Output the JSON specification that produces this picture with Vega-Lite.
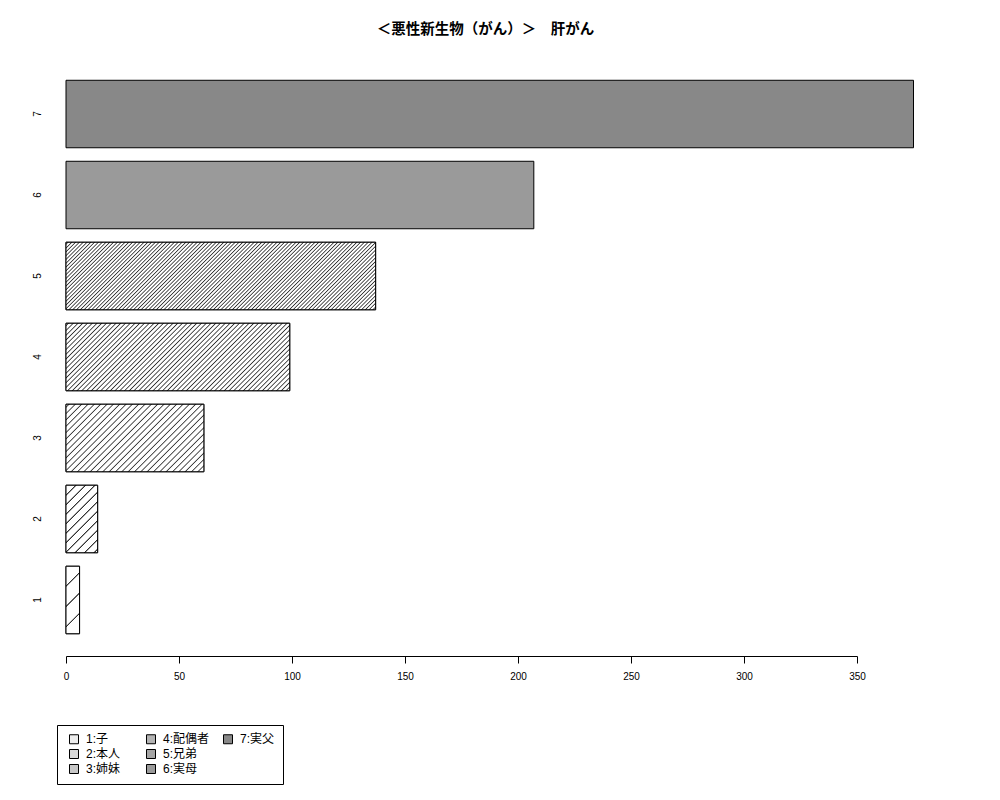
{
  "$schema": "https://vega.github.io/schema/vega-lite/v6.json",
  "width": 791,
  "height": 598,
  "autosize": {"type": "none"},
  "padding": {"left": 66, "top": 58, "right": 143, "bottom": 144},
  "background": "white",
  "title": {
    "text": "＜悪性新生物（がん）＞　肝がん",
    "fontSize": 14.5,
    "fontWeight": "bold",
    "color": "black",
    "frame": "group",
    "anchor": "middle",
    "dx": 24,
    "offset": 21
  },
  "data": {
    "values": [
      {"cat": "1", "label": "1:子", "value": 6},
      {"cat": "2", "label": "2:本人", "value": 14},
      {"cat": "3", "label": "3:姉妹", "value": 61},
      {"cat": "4", "label": "4:配偶者", "value": 99},
      {"cat": "5", "label": "5:兄弟", "value": 137},
      {"cat": "6", "label": "6:実母", "value": 207},
      {"cat": "7", "label": "7:実父", "value": 375}
    ]
  },
  "encoding": {
    "y": {
      "field": "cat",
      "type": "nominal",
      "sort": "descending",
      "scale": {"paddingInner": 0.1667, "paddingOuter": 0.275},
      "axis": {
        "title": null,
        "domain": false,
        "ticks": false,
        "tickSize": 0,
        "labelAngle": -90,
        "labelAlign": "center",
        "labelBaseline": "middle",
        "labelPadding": 29,
        "labelFontSize": 10,
        "labelColor": "black"
      }
    },
    "x": {
      "field": "value",
      "type": "quantitative",
      "scale": {"domain": [0, 350], "nice": false},
      "axis": {
        "title": null,
        "values": [0, 50, 100, 150, 200, 250, 300, 350],
        "grid": false,
        "tickSize": 7,
        "tickColor": "black",
        "domainColor": "black",
        "labelPadding": 8,
        "labelFontSize": 10,
        "labelColor": "black",
        "labelFlush": false,
        "labelOverlap": false
      }
    }
  },
  "layer": [
    {
      "mark": {"type": "bar", "stroke": "black", "strokeWidth": 1},
      "encoding": {
        "fill": {
          "field": "label",
          "type": "nominal",
          "scale": {
            "domain": ["1:子", "2:本人", "3:姉妹", "4:配偶者", "5:兄弟", "6:実母", "7:実父", " "],
            "range": ["#ededed", "#d9d9d9", "#c7c7c7", "#b3b3b3", "#a5a5a5", "#9a9a9a", "#888888", "#ffffff"]
          },
          "legend": {
            "orient": "none",
            "legendX": -9,
            "legendY": 667,
            "columns": 3,
            "gridAlign": "all",
            "columnPadding": 9,
            "rowPadding": 1,
            "padding": 8,
            "strokeColor": "black",
            "fillColor": "white",
            "title": null,
            "symbolType": "square",
            "symbolSize": 81,
            "symbolStrokeColor": "black",
            "symbolStrokeWidth": 1,
            "symbolOffset": 3,
            "labelFontSize": 12,
            "labelOffset": 6,
            "labelColor": "black",
            "encode": {
              "symbols": {
                "update": {
                  "strokeOpacity": {"signal": "datum.value === ' ' ? 0 : 1"}
                }
              }
            }
          }
        }
      }
    },
    {
      "transform": [{"filter": {"field": "cat", "oneOf": ["1", "2", "3", "4", "5"]}}],
      "mark": {"type": "bar", "stroke": "black", "strokeWidth": 1},
      "encoding": {
        "fill": {
          "condition": [
            {
              "test": "datum.cat === '1'",
              "value": {
                "gradient": "linear", "x1": 0, "y1": 0, "x2": 0.2319, "y2": 1.1543,
                "stops": [
                  {"offset": 0, "color": "white"},
                  {"offset": 0.2332, "color": "white"}, {"offset": 0.2424, "color": "#333"}, {"offset": 0.2511, "color": "#333"}, {"offset": 0.2603, "color": "white"},
                  {"offset": 0.4836, "color": "white"}, {"offset": 0.4928, "color": "#333"}, {"offset": 0.5015, "color": "#333"}, {"offset": 0.5107, "color": "white"},
                  {"offset": 0.7340, "color": "white"}, {"offset": 0.7433, "color": "#333"}, {"offset": 0.7519, "color": "#333"}, {"offset": 0.7612, "color": "white"},
                  {"offset": 1, "color": "white"}
                ]
              }
            },
            {
              "test": "datum.cat === '2'",
              "value": {
                "gradient": "linear", "x1": 0, "y1": 0, "x2": 0.5645, "y2": 1.2042,
                "stops": [
                  {"offset": 0, "color": "white"},
                  {"offset": 0.0898, "color": "white"}, {"offset": 0.0973, "color": "#333"}, {"offset": 0.1044, "color": "#333"}, {"offset": 0.1120, "color": "white"},
                  {"offset": 0.1856, "color": "white"}, {"offset": 0.1932, "color": "#333"}, {"offset": 0.2002, "color": "#333"}, {"offset": 0.2078, "color": "white"},
                  {"offset": 0.2814, "color": "white"}, {"offset": 0.2890, "color": "#333"}, {"offset": 0.2960, "color": "#333"}, {"offset": 0.3036, "color": "white"},
                  {"offset": 0.3772, "color": "white"}, {"offset": 0.3848, "color": "#333"}, {"offset": 0.3919, "color": "#333"}, {"offset": 0.3994, "color": "white"},
                  {"offset": 0.4731, "color": "white"}, {"offset": 0.4806, "color": "#333"}, {"offset": 0.4877, "color": "#333"}, {"offset": 0.4953, "color": "white"},
                  {"offset": 0.5689, "color": "white"}, {"offset": 0.5765, "color": "#333"}, {"offset": 0.5835, "color": "#333"}, {"offset": 0.5911, "color": "white"},
                  {"offset": 0.6647, "color": "white"}, {"offset": 0.6723, "color": "#333"}, {"offset": 0.6793, "color": "#333"}, {"offset": 0.6869, "color": "white"},
                  {"offset": 0.7605, "color": "white"}, {"offset": 0.7681, "color": "#333"}, {"offset": 0.7752, "color": "#333"}, {"offset": 0.7827, "color": "white"},
                  {"offset": 0.8564, "color": "white"}, {"offset": 0.8639, "color": "#333"}, {"offset": 0.8710, "color": "#333"}, {"offset": 0.8786, "color": "white"},
                  {"offset": 0.9522, "color": "white"}, {"offset": 0.9598, "color": "#333"}, {"offset": 0.9668, "color": "#333"}, {"offset": 0.9744, "color": "white"},
                  {"offset": 1, "color": "white"}
                ]
              }
            },
            {
              "test": "datum.cat === '3'",
              "value": {
                "gradient": "linear", "x1": 0, "y1": 0, "x2": 1.2016, "y2": 0.5883,
                "stops": [
                  {"offset": 0, "color": "white"},
                  {"offset": 0.0088, "color": "white"}, {"offset": 0.0146, "color": "#333"}, {"offset": 0.0204, "color": "white"},
                  {"offset": 0.0396, "color": "white"}, {"offset": 0.0454, "color": "#333"}, {"offset": 0.0513, "color": "white"},
                  {"offset": 0.0704, "color": "white"}, {"offset": 0.0763, "color": "#333"}, {"offset": 0.0821, "color": "white"},
                  {"offset": 0.1013, "color": "white"}, {"offset": 0.1071, "color": "#333"}, {"offset": 0.1130, "color": "white"},
                  {"offset": 0.1321, "color": "white"}, {"offset": 0.1380, "color": "#333"}, {"offset": 0.1438, "color": "white"},
                  {"offset": 0.1630, "color": "white"}, {"offset": 0.1688, "color": "#333"}, {"offset": 0.1746, "color": "white"},
                  {"offset": 0.1938, "color": "white"}, {"offset": 0.1996, "color": "#333"}, {"offset": 0.2055, "color": "white"},
                  {"offset": 0.2246, "color": "white"}, {"offset": 0.2305, "color": "#333"}, {"offset": 0.2363, "color": "white"},
                  {"offset": 0.2555, "color": "white"}, {"offset": 0.2613, "color": "#333"}, {"offset": 0.2672, "color": "white"},
                  {"offset": 0.2863, "color": "white"}, {"offset": 0.2922, "color": "#333"}, {"offset": 0.2980, "color": "white"},
                  {"offset": 0.3172, "color": "white"}, {"offset": 0.3230, "color": "#333"}, {"offset": 0.3288, "color": "white"},
                  {"offset": 0.3480, "color": "white"}, {"offset": 0.3538, "color": "#333"}, {"offset": 0.3597, "color": "white"},
                  {"offset": 0.3788, "color": "white"}, {"offset": 0.3847, "color": "#333"}, {"offset": 0.3905, "color": "white"},
                  {"offset": 0.4097, "color": "white"}, {"offset": 0.4155, "color": "#333"}, {"offset": 0.4214, "color": "white"},
                  {"offset": 0.4405, "color": "white"}, {"offset": 0.4464, "color": "#333"}, {"offset": 0.4522, "color": "white"},
                  {"offset": 0.4714, "color": "white"}, {"offset": 0.4772, "color": "#333"}, {"offset": 0.4830, "color": "white"},
                  {"offset": 0.5022, "color": "white"}, {"offset": 0.5080, "color": "#333"}, {"offset": 0.5139, "color": "white"},
                  {"offset": 0.5330, "color": "white"}, {"offset": 0.5389, "color": "#333"}, {"offset": 0.5447, "color": "white"},
                  {"offset": 0.5639, "color": "white"}, {"offset": 0.5697, "color": "#333"}, {"offset": 0.5756, "color": "white"},
                  {"offset": 0.5947, "color": "white"}, {"offset": 0.6006, "color": "#333"}, {"offset": 0.6064, "color": "white"},
                  {"offset": 0.6256, "color": "white"}, {"offset": 0.6314, "color": "#333"}, {"offset": 0.6372, "color": "white"},
                  {"offset": 0.6564, "color": "white"}, {"offset": 0.6622, "color": "#333"}, {"offset": 0.6681, "color": "white"},
                  {"offset": 0.6872, "color": "white"}, {"offset": 0.6931, "color": "#333"}, {"offset": 0.6989, "color": "white"},
                  {"offset": 0.7181, "color": "white"}, {"offset": 0.7239, "color": "#333"}, {"offset": 0.7298, "color": "white"},
                  {"offset": 0.7489, "color": "white"}, {"offset": 0.7548, "color": "#333"}, {"offset": 0.7606, "color": "white"},
                  {"offset": 0.7798, "color": "white"}, {"offset": 0.7856, "color": "#333"}, {"offset": 0.7914, "color": "white"},
                  {"offset": 0.8106, "color": "white"}, {"offset": 0.8164, "color": "#333"}, {"offset": 0.8223, "color": "white"},
                  {"offset": 0.8414, "color": "white"}, {"offset": 0.8473, "color": "#333"}, {"offset": 0.8531, "color": "white"},
                  {"offset": 0.8723, "color": "white"}, {"offset": 0.8781, "color": "#333"}, {"offset": 0.8840, "color": "white"},
                  {"offset": 0.9031, "color": "white"}, {"offset": 0.9090, "color": "#333"}, {"offset": 0.9148, "color": "white"},
                  {"offset": 0.9340, "color": "white"}, {"offset": 0.9398, "color": "#333"}, {"offset": 0.9456, "color": "white"},
                  {"offset": 0.9648, "color": "white"}, {"offset": 0.9706, "color": "#333"}, {"offset": 0.9765, "color": "white"},
                  {"offset": 1, "color": "white"}
                ]
              }
            },
            {
              "test": "datum.cat === '4'",
              "value": {
                "gradient": "linear", "x1": 0, "y1": 0, "x2": 1.1931, "y2": 0.3599,
                "stops": [
                  {"offset": 0, "color": "white"},
                  {"offset": 0.0045, "color": "white"}, {"offset": 0.0086, "color": "#333"}, {"offset": 0.0127, "color": "white"},
                  {"offset": 0.0208, "color": "white"}, {"offset": 0.0249, "color": "#333"}, {"offset": 0.0290, "color": "white"},
                  {"offset": 0.0371, "color": "white"}, {"offset": 0.0412, "color": "#333"}, {"offset": 0.0453, "color": "white"},
                  {"offset": 0.0534, "color": "white"}, {"offset": 0.0575, "color": "#333"}, {"offset": 0.0616, "color": "white"},
                  {"offset": 0.0697, "color": "white"}, {"offset": 0.0738, "color": "#333"}, {"offset": 0.0779, "color": "white"},
                  {"offset": 0.0860, "color": "white"}, {"offset": 0.0901, "color": "#333"}, {"offset": 0.0942, "color": "white"},
                  {"offset": 0.1023, "color": "white"}, {"offset": 0.1064, "color": "#333"}, {"offset": 0.1105, "color": "white"},
                  {"offset": 0.1186, "color": "white"}, {"offset": 0.1227, "color": "#333"}, {"offset": 0.1268, "color": "white"},
                  {"offset": 0.1350, "color": "white"}, {"offset": 0.1391, "color": "#333"}, {"offset": 0.1432, "color": "white"},
                  {"offset": 0.1513, "color": "white"}, {"offset": 0.1554, "color": "#333"}, {"offset": 0.1595, "color": "white"},
                  {"offset": 0.1676, "color": "white"}, {"offset": 0.1717, "color": "#333"}, {"offset": 0.1758, "color": "white"},
                  {"offset": 0.1839, "color": "white"}, {"offset": 0.1880, "color": "#333"}, {"offset": 0.1921, "color": "white"},
                  {"offset": 0.2002, "color": "white"}, {"offset": 0.2043, "color": "#333"}, {"offset": 0.2084, "color": "white"},
                  {"offset": 0.2165, "color": "white"}, {"offset": 0.2206, "color": "#333"}, {"offset": 0.2247, "color": "white"},
                  {"offset": 0.2328, "color": "white"}, {"offset": 0.2369, "color": "#333"}, {"offset": 0.2410, "color": "white"},
                  {"offset": 0.2491, "color": "white"}, {"offset": 0.2532, "color": "#333"}, {"offset": 0.2573, "color": "white"},
                  {"offset": 0.2654, "color": "white"}, {"offset": 0.2695, "color": "#333"}, {"offset": 0.2736, "color": "white"},
                  {"offset": 0.2817, "color": "white"}, {"offset": 0.2858, "color": "#333"}, {"offset": 0.2899, "color": "white"},
                  {"offset": 0.2981, "color": "white"}, {"offset": 0.3022, "color": "#333"}, {"offset": 0.3063, "color": "white"},
                  {"offset": 0.3144, "color": "white"}, {"offset": 0.3185, "color": "#333"}, {"offset": 0.3226, "color": "white"},
                  {"offset": 0.3307, "color": "white"}, {"offset": 0.3348, "color": "#333"}, {"offset": 0.3389, "color": "white"},
                  {"offset": 0.3470, "color": "white"}, {"offset": 0.3511, "color": "#333"}, {"offset": 0.3552, "color": "white"},
                  {"offset": 0.3633, "color": "white"}, {"offset": 0.3674, "color": "#333"}, {"offset": 0.3715, "color": "white"},
                  {"offset": 0.3796, "color": "white"}, {"offset": 0.3837, "color": "#333"}, {"offset": 0.3878, "color": "white"},
                  {"offset": 0.3959, "color": "white"}, {"offset": 0.4000, "color": "#333"}, {"offset": 0.4041, "color": "white"},
                  {"offset": 0.4122, "color": "white"}, {"offset": 0.4163, "color": "#333"}, {"offset": 0.4204, "color": "white"},
                  {"offset": 0.4285, "color": "white"}, {"offset": 0.4326, "color": "#333"}, {"offset": 0.4367, "color": "white"},
                  {"offset": 0.4448, "color": "white"}, {"offset": 0.4489, "color": "#333"}, {"offset": 0.4530, "color": "white"},
                  {"offset": 0.4612, "color": "white"}, {"offset": 0.4653, "color": "#333"}, {"offset": 0.4694, "color": "white"},
                  {"offset": 0.4775, "color": "white"}, {"offset": 0.4816, "color": "#333"}, {"offset": 0.4857, "color": "white"},
                  {"offset": 0.4938, "color": "white"}, {"offset": 0.4979, "color": "#333"}, {"offset": 0.5020, "color": "white"},
                  {"offset": 0.5101, "color": "white"}, {"offset": 0.5142, "color": "#333"}, {"offset": 0.5183, "color": "white"},
                  {"offset": 0.5264, "color": "white"}, {"offset": 0.5305, "color": "#333"}, {"offset": 0.5346, "color": "white"},
                  {"offset": 0.5427, "color": "white"}, {"offset": 0.5468, "color": "#333"}, {"offset": 0.5509, "color": "white"},
                  {"offset": 0.5590, "color": "white"}, {"offset": 0.5631, "color": "#333"}, {"offset": 0.5672, "color": "white"},
                  {"offset": 0.5753, "color": "white"}, {"offset": 0.5794, "color": "#333"}, {"offset": 0.5835, "color": "white"},
                  {"offset": 0.5916, "color": "white"}, {"offset": 0.5957, "color": "#333"}, {"offset": 0.5998, "color": "white"},
                  {"offset": 0.6079, "color": "white"}, {"offset": 0.6120, "color": "#333"}, {"offset": 0.6161, "color": "white"},
                  {"offset": 0.6243, "color": "white"}, {"offset": 0.6284, "color": "#333"}, {"offset": 0.6325, "color": "white"},
                  {"offset": 0.6406, "color": "white"}, {"offset": 0.6447, "color": "#333"}, {"offset": 0.6488, "color": "white"},
                  {"offset": 0.6569, "color": "white"}, {"offset": 0.6610, "color": "#333"}, {"offset": 0.6651, "color": "white"},
                  {"offset": 0.6732, "color": "white"}, {"offset": 0.6773, "color": "#333"}, {"offset": 0.6814, "color": "white"},
                  {"offset": 0.6895, "color": "white"}, {"offset": 0.6936, "color": "#333"}, {"offset": 0.6977, "color": "white"},
                  {"offset": 0.7058, "color": "white"}, {"offset": 0.7099, "color": "#333"}, {"offset": 0.7140, "color": "white"},
                  {"offset": 0.7221, "color": "white"}, {"offset": 0.7262, "color": "#333"}, {"offset": 0.7303, "color": "white"},
                  {"offset": 0.7384, "color": "white"}, {"offset": 0.7425, "color": "#333"}, {"offset": 0.7466, "color": "white"},
                  {"offset": 0.7547, "color": "white"}, {"offset": 0.7588, "color": "#333"}, {"offset": 0.7629, "color": "white"},
                  {"offset": 0.7710, "color": "white"}, {"offset": 0.7751, "color": "#333"}, {"offset": 0.7792, "color": "white"},
                  {"offset": 0.7874, "color": "white"}, {"offset": 0.7915, "color": "#333"}, {"offset": 0.7956, "color": "white"},
                  {"offset": 0.8037, "color": "white"}, {"offset": 0.8078, "color": "#333"}, {"offset": 0.8119, "color": "white"},
                  {"offset": 0.8200, "color": "white"}, {"offset": 0.8241, "color": "#333"}, {"offset": 0.8282, "color": "white"},
                  {"offset": 0.8363, "color": "white"}, {"offset": 0.8404, "color": "#333"}, {"offset": 0.8445, "color": "white"},
                  {"offset": 0.8526, "color": "white"}, {"offset": 0.8567, "color": "#333"}, {"offset": 0.8608, "color": "white"},
                  {"offset": 0.8689, "color": "white"}, {"offset": 0.8730, "color": "#333"}, {"offset": 0.8771, "color": "white"},
                  {"offset": 0.8852, "color": "white"}, {"offset": 0.8893, "color": "#333"}, {"offset": 0.8934, "color": "white"},
                  {"offset": 0.9015, "color": "white"}, {"offset": 0.9056, "color": "#333"}, {"offset": 0.9097, "color": "white"},
                  {"offset": 0.9178, "color": "white"}, {"offset": 0.9219, "color": "#333"}, {"offset": 0.9260, "color": "white"},
                  {"offset": 0.9341, "color": "white"}, {"offset": 0.9382, "color": "#333"}, {"offset": 0.9423, "color": "white"},
                  {"offset": 0.9505, "color": "white"}, {"offset": 0.9546, "color": "#333"}, {"offset": 0.9587, "color": "white"},
                  {"offset": 0.9668, "color": "white"}, {"offset": 0.9709, "color": "#333"}, {"offset": 0.9750, "color": "white"},
                  {"offset": 0.9831, "color": "white"}, {"offset": 0.9872, "color": "#333"}, {"offset": 0.9913, "color": "white"},
                  {"offset": 1, "color": "white"}
                ]
              }
            },
            {
              "test": "datum.cat === '5'",
              "value": {
                "gradient": "linear", "x1": 0, "y1": 0, "x2": 1.1627, "y2": 0.2535,
                "stops": [
                  {"offset": 0, "color": "white"},
                  {"offset": 0.0022, "color": "white"}, {"offset": 0.0053, "color": "#333"}, {"offset": 0.0084, "color": "white"},
                  {"offset": 0.0123, "color": "white"}, {"offset": 0.0154, "color": "#333"}, {"offset": 0.0185, "color": "white"},
                  {"offset": 0.0224, "color": "white"}, {"offset": 0.0255, "color": "#333"}, {"offset": 0.0286, "color": "white"},
                  {"offset": 0.0324, "color": "white"}, {"offset": 0.0355, "color": "#333"}, {"offset": 0.0386, "color": "white"},
                  {"offset": 0.0425, "color": "white"}, {"offset": 0.0456, "color": "#333"}, {"offset": 0.0487, "color": "white"},
                  {"offset": 0.0526, "color": "white"}, {"offset": 0.0557, "color": "#333"}, {"offset": 0.0588, "color": "white"},
                  {"offset": 0.0627, "color": "white"}, {"offset": 0.0658, "color": "#333"}, {"offset": 0.0689, "color": "white"},
                  {"offset": 0.0727, "color": "white"}, {"offset": 0.0758, "color": "#333"}, {"offset": 0.0789, "color": "white"},
                  {"offset": 0.0828, "color": "white"}, {"offset": 0.0859, "color": "#333"}, {"offset": 0.0890, "color": "white"},
                  {"offset": 0.0929, "color": "white"}, {"offset": 0.0960, "color": "#333"}, {"offset": 0.0991, "color": "white"},
                  {"offset": 0.1030, "color": "white"}, {"offset": 0.1061, "color": "#333"}, {"offset": 0.1092, "color": "white"},
                  {"offset": 0.1130, "color": "white"}, {"offset": 0.1161, "color": "#333"}, {"offset": 0.1192, "color": "white"},
                  {"offset": 0.1231, "color": "white"}, {"offset": 0.1262, "color": "#333"}, {"offset": 0.1293, "color": "white"},
                  {"offset": 0.1332, "color": "white"}, {"offset": 0.1363, "color": "#333"}, {"offset": 0.1394, "color": "white"},
                  {"offset": 0.1433, "color": "white"}, {"offset": 0.1464, "color": "#333"}, {"offset": 0.1495, "color": "white"},
                  {"offset": 0.1533, "color": "white"}, {"offset": 0.1564, "color": "#333"}, {"offset": 0.1595, "color": "white"},
                  {"offset": 0.1634, "color": "white"}, {"offset": 0.1665, "color": "#333"}, {"offset": 0.1696, "color": "white"},
                  {"offset": 0.1735, "color": "white"}, {"offset": 0.1766, "color": "#333"}, {"offset": 0.1797, "color": "white"},
                  {"offset": 0.1836, "color": "white"}, {"offset": 0.1867, "color": "#333"}, {"offset": 0.1898, "color": "white"},
                  {"offset": 0.1936, "color": "white"}, {"offset": 0.1967, "color": "#333"}, {"offset": 0.1998, "color": "white"},
                  {"offset": 0.2037, "color": "white"}, {"offset": 0.2068, "color": "#333"}, {"offset": 0.2099, "color": "white"},
                  {"offset": 0.2138, "color": "white"}, {"offset": 0.2169, "color": "#333"}, {"offset": 0.2200, "color": "white"},
                  {"offset": 0.2239, "color": "white"}, {"offset": 0.2270, "color": "#333"}, {"offset": 0.2301, "color": "white"},
                  {"offset": 0.2339, "color": "white"}, {"offset": 0.2370, "color": "#333"}, {"offset": 0.2401, "color": "white"},
                  {"offset": 0.2440, "color": "white"}, {"offset": 0.2471, "color": "#333"}, {"offset": 0.2502, "color": "white"},
                  {"offset": 0.2541, "color": "white"}, {"offset": 0.2572, "color": "#333"}, {"offset": 0.2603, "color": "white"},
                  {"offset": 0.2642, "color": "white"}, {"offset": 0.2673, "color": "#333"}, {"offset": 0.2704, "color": "white"},
                  {"offset": 0.2742, "color": "white"}, {"offset": 0.2773, "color": "#333"}, {"offset": 0.2804, "color": "white"},
                  {"offset": 0.2843, "color": "white"}, {"offset": 0.2874, "color": "#333"}, {"offset": 0.2905, "color": "white"},
                  {"offset": 0.2944, "color": "white"}, {"offset": 0.2975, "color": "#333"}, {"offset": 0.3006, "color": "white"},
                  {"offset": 0.3045, "color": "white"}, {"offset": 0.3076, "color": "#333"}, {"offset": 0.3107, "color": "white"},
                  {"offset": 0.3146, "color": "white"}, {"offset": 0.3177, "color": "#333"}, {"offset": 0.3208, "color": "white"},
                  {"offset": 0.3246, "color": "white"}, {"offset": 0.3277, "color": "#333"}, {"offset": 0.3308, "color": "white"},
                  {"offset": 0.3347, "color": "white"}, {"offset": 0.3378, "color": "#333"}, {"offset": 0.3409, "color": "white"},
                  {"offset": 0.3448, "color": "white"}, {"offset": 0.3479, "color": "#333"}, {"offset": 0.3510, "color": "white"},
                  {"offset": 0.3549, "color": "white"}, {"offset": 0.3580, "color": "#333"}, {"offset": 0.3611, "color": "white"},
                  {"offset": 0.3649, "color": "white"}, {"offset": 0.3680, "color": "#333"}, {"offset": 0.3711, "color": "white"},
                  {"offset": 0.3750, "color": "white"}, {"offset": 0.3781, "color": "#333"}, {"offset": 0.3812, "color": "white"},
                  {"offset": 0.3851, "color": "white"}, {"offset": 0.3882, "color": "#333"}, {"offset": 0.3913, "color": "white"},
                  {"offset": 0.3952, "color": "white"}, {"offset": 0.3983, "color": "#333"}, {"offset": 0.4014, "color": "white"},
                  {"offset": 0.4052, "color": "white"}, {"offset": 0.4083, "color": "#333"}, {"offset": 0.4114, "color": "white"},
                  {"offset": 0.4153, "color": "white"}, {"offset": 0.4184, "color": "#333"}, {"offset": 0.4215, "color": "white"},
                  {"offset": 0.4254, "color": "white"}, {"offset": 0.4285, "color": "#333"}, {"offset": 0.4316, "color": "white"},
                  {"offset": 0.4355, "color": "white"}, {"offset": 0.4386, "color": "#333"}, {"offset": 0.4417, "color": "white"},
                  {"offset": 0.4455, "color": "white"}, {"offset": 0.4486, "color": "#333"}, {"offset": 0.4517, "color": "white"},
                  {"offset": 0.4556, "color": "white"}, {"offset": 0.4587, "color": "#333"}, {"offset": 0.4618, "color": "white"},
                  {"offset": 0.4657, "color": "white"}, {"offset": 0.4688, "color": "#333"}, {"offset": 0.4719, "color": "white"},
                  {"offset": 0.4758, "color": "white"}, {"offset": 0.4789, "color": "#333"}, {"offset": 0.4820, "color": "white"},
                  {"offset": 0.4858, "color": "white"}, {"offset": 0.4889, "color": "#333"}, {"offset": 0.4920, "color": "white"},
                  {"offset": 0.4959, "color": "white"}, {"offset": 0.4990, "color": "#333"}, {"offset": 0.5021, "color": "white"},
                  {"offset": 0.5060, "color": "white"}, {"offset": 0.5091, "color": "#333"}, {"offset": 0.5122, "color": "white"},
                  {"offset": 0.5161, "color": "white"}, {"offset": 0.5192, "color": "#333"}, {"offset": 0.5223, "color": "white"},
                  {"offset": 0.5262, "color": "white"}, {"offset": 0.5293, "color": "#333"}, {"offset": 0.5324, "color": "white"},
                  {"offset": 0.5362, "color": "white"}, {"offset": 0.5393, "color": "#333"}, {"offset": 0.5424, "color": "white"},
                  {"offset": 0.5463, "color": "white"}, {"offset": 0.5494, "color": "#333"}, {"offset": 0.5525, "color": "white"},
                  {"offset": 0.5564, "color": "white"}, {"offset": 0.5595, "color": "#333"}, {"offset": 0.5626, "color": "white"},
                  {"offset": 0.5665, "color": "white"}, {"offset": 0.5696, "color": "#333"}, {"offset": 0.5727, "color": "white"},
                  {"offset": 0.5765, "color": "white"}, {"offset": 0.5796, "color": "#333"}, {"offset": 0.5827, "color": "white"},
                  {"offset": 0.5866, "color": "white"}, {"offset": 0.5897, "color": "#333"}, {"offset": 0.5928, "color": "white"},
                  {"offset": 0.5967, "color": "white"}, {"offset": 0.5998, "color": "#333"}, {"offset": 0.6029, "color": "white"},
                  {"offset": 0.6068, "color": "white"}, {"offset": 0.6099, "color": "#333"}, {"offset": 0.6130, "color": "white"},
                  {"offset": 0.6168, "color": "white"}, {"offset": 0.6199, "color": "#333"}, {"offset": 0.6230, "color": "white"},
                  {"offset": 0.6269, "color": "white"}, {"offset": 0.6300, "color": "#333"}, {"offset": 0.6331, "color": "white"},
                  {"offset": 0.6370, "color": "white"}, {"offset": 0.6401, "color": "#333"}, {"offset": 0.6432, "color": "white"},
                  {"offset": 0.6471, "color": "white"}, {"offset": 0.6502, "color": "#333"}, {"offset": 0.6533, "color": "white"},
                  {"offset": 0.6571, "color": "white"}, {"offset": 0.6602, "color": "#333"}, {"offset": 0.6633, "color": "white"},
                  {"offset": 0.6672, "color": "white"}, {"offset": 0.6703, "color": "#333"}, {"offset": 0.6734, "color": "white"},
                  {"offset": 0.6773, "color": "white"}, {"offset": 0.6804, "color": "#333"}, {"offset": 0.6835, "color": "white"},
                  {"offset": 0.6874, "color": "white"}, {"offset": 0.6905, "color": "#333"}, {"offset": 0.6936, "color": "white"},
                  {"offset": 0.6974, "color": "white"}, {"offset": 0.7005, "color": "#333"}, {"offset": 0.7036, "color": "white"},
                  {"offset": 0.7075, "color": "white"}, {"offset": 0.7106, "color": "#333"}, {"offset": 0.7137, "color": "white"},
                  {"offset": 0.7176, "color": "white"}, {"offset": 0.7207, "color": "#333"}, {"offset": 0.7238, "color": "white"},
                  {"offset": 0.7277, "color": "white"}, {"offset": 0.7308, "color": "#333"}, {"offset": 0.7339, "color": "white"},
                  {"offset": 0.7378, "color": "white"}, {"offset": 0.7409, "color": "#333"}, {"offset": 0.7440, "color": "white"},
                  {"offset": 0.7478, "color": "white"}, {"offset": 0.7509, "color": "#333"}, {"offset": 0.7540, "color": "white"},
                  {"offset": 0.7579, "color": "white"}, {"offset": 0.7610, "color": "#333"}, {"offset": 0.7641, "color": "white"},
                  {"offset": 0.7680, "color": "white"}, {"offset": 0.7711, "color": "#333"}, {"offset": 0.7742, "color": "white"},
                  {"offset": 0.7781, "color": "white"}, {"offset": 0.7812, "color": "#333"}, {"offset": 0.7843, "color": "white"},
                  {"offset": 0.7881, "color": "white"}, {"offset": 0.7912, "color": "#333"}, {"offset": 0.7943, "color": "white"},
                  {"offset": 0.7982, "color": "white"}, {"offset": 0.8013, "color": "#333"}, {"offset": 0.8044, "color": "white"},
                  {"offset": 0.8083, "color": "white"}, {"offset": 0.8114, "color": "#333"}, {"offset": 0.8145, "color": "white"},
                  {"offset": 0.8184, "color": "white"}, {"offset": 0.8215, "color": "#333"}, {"offset": 0.8246, "color": "white"},
                  {"offset": 0.8284, "color": "white"}, {"offset": 0.8315, "color": "#333"}, {"offset": 0.8346, "color": "white"},
                  {"offset": 0.8385, "color": "white"}, {"offset": 0.8416, "color": "#333"}, {"offset": 0.8447, "color": "white"},
                  {"offset": 0.8486, "color": "white"}, {"offset": 0.8517, "color": "#333"}, {"offset": 0.8548, "color": "white"},
                  {"offset": 0.8587, "color": "white"}, {"offset": 0.8618, "color": "#333"}, {"offset": 0.8649, "color": "white"},
                  {"offset": 0.8687, "color": "white"}, {"offset": 0.8718, "color": "#333"}, {"offset": 0.8749, "color": "white"},
                  {"offset": 0.8788, "color": "white"}, {"offset": 0.8819, "color": "#333"}, {"offset": 0.8850, "color": "white"},
                  {"offset": 0.8889, "color": "white"}, {"offset": 0.8920, "color": "#333"}, {"offset": 0.8951, "color": "white"},
                  {"offset": 0.8990, "color": "white"}, {"offset": 0.9021, "color": "#333"}, {"offset": 0.9052, "color": "white"},
                  {"offset": 0.9090, "color": "white"}, {"offset": 0.9121, "color": "#333"}, {"offset": 0.9152, "color": "white"},
                  {"offset": 0.9191, "color": "white"}, {"offset": 0.9222, "color": "#333"}, {"offset": 0.9253, "color": "white"},
                  {"offset": 0.9292, "color": "white"}, {"offset": 0.9323, "color": "#333"}, {"offset": 0.9354, "color": "white"},
                  {"offset": 0.9393, "color": "white"}, {"offset": 0.9424, "color": "#333"}, {"offset": 0.9455, "color": "white"},
                  {"offset": 0.9494, "color": "white"}, {"offset": 0.9525, "color": "#333"}, {"offset": 0.9556, "color": "white"},
                  {"offset": 0.9594, "color": "white"}, {"offset": 0.9625, "color": "#333"}, {"offset": 0.9656, "color": "white"},
                  {"offset": 0.9695, "color": "white"}, {"offset": 0.9726, "color": "#333"}, {"offset": 0.9757, "color": "white"},
                  {"offset": 0.9796, "color": "white"}, {"offset": 0.9827, "color": "#333"}, {"offset": 0.9858, "color": "white"},
                  {"offset": 0.9897, "color": "white"}, {"offset": 0.9928, "color": "#333"}, {"offset": 0.9959, "color": "white"},
                  {"offset": 1, "color": "white"}
                ]
              }
            }
          ],
          "value": "white"
        }
      }
    }
  ],
  "config": {
    "font": "Liberation Sans, Noto Sans CJK JP",
    "view": {"stroke": null},
    "axis": {"labelFont": "Liberation Sans, Noto Sans CJK JP"},
    "legend": {"labelFont": "Liberation Sans, Noto Sans CJK JP"},
    "title": {"font": "Liberation Sans, Noto Sans CJK JP"}
  }
}
